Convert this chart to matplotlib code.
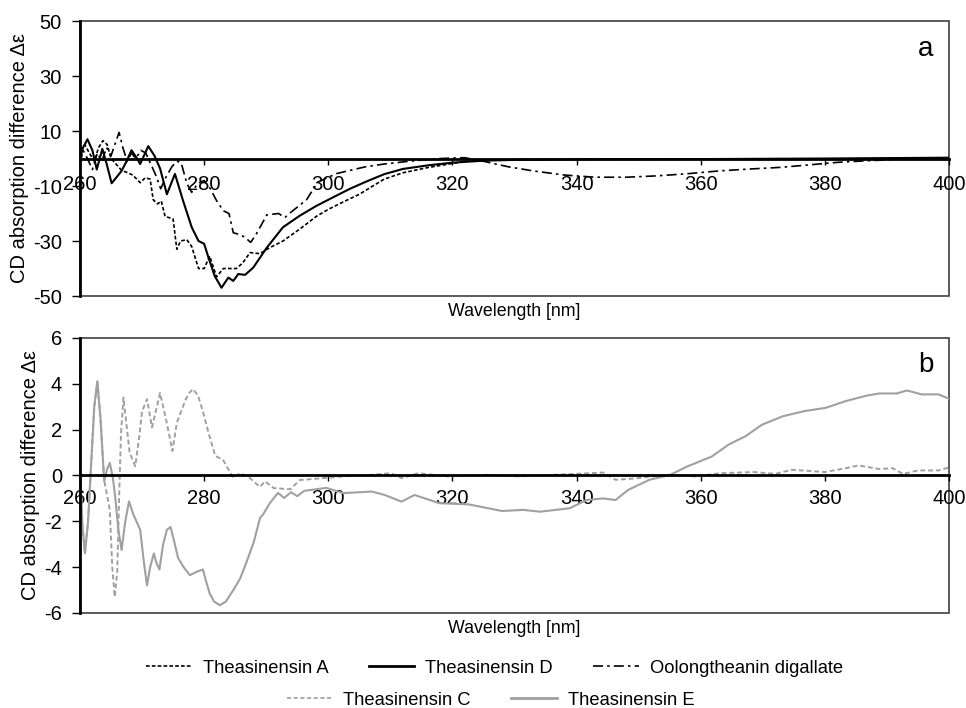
import matplotlib
matplotlib.use("Agg")
import matplotlib.pyplot as plt
from matplotlib.lines import Line2D
from matplotlib.patches import Rectangle

plt.rcParams["font.family"] = ["Liberation Sans", "DejaVu Sans"]
plt.rcParams["axes.unicode_minus"] = False

# ---- panel a: black curves ----
wl_tsa = [260, 260.8, 261.5, 262.3, 263.0, 263.7, 264.4, 265.0, 265.8, 266.7, 267.5, 268.5,
          269.7, 270.5, 271.3, 271.8, 272.5, 273.1, 273.7, 275.0, 275.6, 276.2, 277.2, 278.0,
          279.1, 280.0, 280.9, 282.0, 283.1, 285.2, 286.2, 287.4, 289.0, 290.5, 292.7, 295.5,
          298.1, 300.0, 302.4, 305.0, 309.0, 312.0, 316.0, 320.0, 323.0, 330.0, 350.0, 380.0, 400.0]
cd_tsa = [3, 5, 2, -1, 4, 6.5, 5, 0, -2, -4.3, -5, -6, -8.8, -7, -7.5, -15, -16.5, -15.5, -21,
          -22, -33, -30, -29.5, -32, -40, -40, -35.5, -43, -40, -40, -38, -34.2, -34.6, -32.5,
          -30, -25.5, -21, -18.5, -15.8, -13, -7.5, -5.2, -3.3, -1.8, -0.8, -0.4, -0.2, -0.1, 0]

wl_tsd = [260, 260.5, 261.2, 262.0, 262.7, 263.6, 264.3, 265.1, 266.0, 266.7, 267.5, 268.3,
          269.2, 269.7, 270.5, 271.0, 272.0, 272.9, 274.0, 275.3, 276.6, 278.0, 279.1, 280.0,
          280.7, 281.7, 282.8, 283.9, 284.7, 285.5, 286.6, 287.9, 290.1, 292.7, 295.4, 298.1,
          301.3, 303.5, 306.0, 309.0, 312.0, 316.0, 320.0, 325.0, 330.0, 340.0, 360.0, 380.0, 400.0]
cd_tsd = [0, 4, 7, 3, -4, 3.5, -2, -9, -6.5, -4.5, -1, 3, 0, -2, 2, 4.5, 1, -3.6, -13, -5.6,
          -15.3, -25, -30, -31, -36, -42.7, -47, -43.3, -44.5, -42, -42.3, -39.7, -32.4, -25,
          -20.8, -17.2, -13.5, -11, -8.5, -5.7, -3.8, -2.5, -1.5, -0.8, -0.5, -0.3, -0.2, 0, 0.3]

wl_odg = [260, 260.5, 261.2, 262.0, 262.8, 263.5, 264.3, 265.0, 265.6, 266.3, 266.9, 267.6,
          268.3, 269.0, 269.8, 270.6, 271.4, 272.2, 273.0, 273.8, 274.8, 275.6, 276.3, 277.2,
          278.0, 279.0, 280.0, 281.0, 282.0, 283.1, 284.0, 284.7, 285.5, 286.5, 287.5, 288.4,
          290.1, 292.0, 293.0, 294.0, 296.5, 298.3, 301.3, 303.5, 306.0, 309.0, 313.0, 318.0,
          322.0, 325.0, 329.0, 333.0, 338.0, 343.0, 348.0, 353.0, 358.0, 363.0, 368.0, 373.0,
          378.0, 382.0, 386.0, 390.0, 395.0, 400.0]
cd_odg = [-2, 3, 0, -4, 2, -1, 4, 1, 5, 9.5, 4, -1, 2, 0, 3, 2, -2, -6, -11, -7, -3, -1, -1.5,
          -9, -12.3, -9, -8, -11, -15.3, -19, -20, -27, -27.5, -28.5, -30.5, -27.5, -20.5, -20,
          -21.5, -19.5, -15, -8.6, -5.5, -4.3, -3, -2, -1, 0, 0.3, -1, -3, -4.5, -6, -6.8, -6.8,
          -6.3, -5.5, -4.5, -3.8, -3.2, -2.2, -1.4, -0.9, -0.5, 0, 0.3]

# ---- panel b: gray curves ----
wl_tsc = [260, 260.4, 260.8, 261.3, 261.8, 262.3, 262.8, 263.3, 263.9, 264.8, 265.2, 265.6,
          266.0, 266.3, 266.6, 267.0, 267.5, 268.0, 268.9, 269.5, 270.0, 270.8, 271.6, 272.3,
          272.9, 273.9, 274.9, 275.6, 276.3, 277.0, 277.6, 278.2, 279.0, 279.8, 280.7, 281.8,
          283.0, 284.7, 285.8, 287.1, 289.0, 289.8, 291.2, 293.9, 295.4, 298.5, 302.4, 307.0,
          310.1, 311.8, 314.5, 319.3, 326.0, 330.7, 336.1, 342.2, 344.3, 346.3, 349.7, 354.4,
          359.1, 363.2, 368.6, 372.0, 374.7, 380.0, 383.4, 385.4, 388.8, 390.9, 392.6, 395.0,
          398.3, 400.0]
cd_tsc = [0.3, -2.2, -3.4, -2.0, 0.5, 3.0, 4.1, 2.5, -0.2, -1.5, -4.0, -5.3, -4.2, -1.0, 1.8,
          3.4, 2.2, 1.0, 0.4, 1.6, 2.8, 3.33, 2.1, 2.9, 3.6, 2.4, 1.07, 2.3, 2.8, 3.3, 3.6, 3.77,
          3.5, 2.8, 1.87, 0.85, 0.7, -0.1, 0.1, -0.05, -0.5, -0.25, -0.55, -0.6, -0.2, -0.13,
          -0.04, 0.03, 0.1, -0.12, 0.1, -0.04, 0.03, -0.04, 0.03, 0.1, 0.13, -0.19, -0.12, 0.03,
          -0.04, 0.1, 0.15, 0.07, 0.25, 0.15, 0.32, 0.44, 0.28, 0.32, 0.07, 0.22, 0.22, 0.35]

wl_tse = [260, 260.4, 260.8, 261.3, 261.8, 262.3, 262.8, 263.3, 263.9, 264.4, 264.8, 265.3,
          265.7, 266.2, 266.7, 267.3, 267.9, 268.6, 269.7, 270.3, 270.8, 271.3, 271.9, 272.3,
          272.8, 273.4, 274.0, 274.6, 275.2, 275.8, 276.7, 277.7, 278.8, 279.8, 280.3, 280.9,
          281.6, 282.5, 283.5, 284.7, 285.8, 286.8, 288.0, 289.0, 289.5, 290.6, 291.9, 292.9,
          294.0, 295.0, 296.1, 299.7, 302.4, 307.0, 309.1, 311.8, 313.9, 317.9, 322.6, 328.0,
          331.4, 334.1, 338.9, 341.6, 344.3, 346.3, 348.3, 351.7, 355.1, 357.8, 361.8, 364.5,
          367.2, 369.9, 373.3, 376.7, 380.1, 383.4, 386.8, 388.8, 391.6, 393.2, 395.6, 398.3, 400.0]
cd_tse = [0.3, -2.2, -3.4, -2.0, 0.5, 3.0, 4.1, 2.5, -0.25, 0.3, 0.55, -0.1, -1.0, -2.4,
          -3.25, -2.0, -1.13, -1.7, -2.37, -3.8, -4.8, -4.0, -3.4, -3.8, -4.1, -3.0, -2.37, -2.25,
          -2.9, -3.6, -4.0, -4.35, -4.2, -4.1, -4.6, -5.15, -5.5, -5.66, -5.5, -5.0, -4.5, -3.8,
          -2.9, -1.86, -1.7, -1.2, -0.76, -0.98, -0.73, -0.9, -0.67, -0.54, -0.77, -0.7, -0.85,
          -1.14, -0.85, -1.21, -1.26, -1.55, -1.5, -1.58, -1.43, -1.07, -1.0, -1.07, -0.63,
          -0.19, 0.03, 0.39, 0.83, 1.35, 1.71, 2.22, 2.59, 2.81, 2.95, 3.25, 3.49, 3.58, 3.58,
          3.71, 3.54, 3.54, 3.35]

x_ticks = [260, 280, 300, 320, 340, 360, 380, 400]
ya_ticks = [-50, -30, -10, 10, 30, 50]
yb_ticks = [-6, -4, -2, 0, 2, 4, 6]

GRAY = "#a0a0a0"
STY_A = (0, (2.2, 1.3))
STY_ODG = (0, (6, 2.5, 1.5, 2.5))
STY_C = (0, (2.5, 1.5))

fig = plt.figure(figsize=(9.66, 7.08), dpi=100)
ax_a = fig.add_axes([0.0828, 0.5819, 0.8996, 0.3884])
ax_b = fig.add_axes([0.0828, 0.1342, 0.8996, 0.3884])


def style_axes(ax, yticks, pad):
    ax.set_xlim(260, 400)
    ax.set_ylim(yticks[0], yticks[-1])
    ax.set_xticks(x_ticks)
    ax.set_yticks(yticks)
    for s in ("top", "right"):
        ax.spines[s].set_visible(False)
    ax.spines["bottom"].set_position(("data", 0))
    ax.spines["bottom"].set_linewidth(2)
    ax.spines["left"].set_linewidth(2)
    ax.add_patch(Rectangle((0, 0), 1, 1, transform=ax.transAxes, fill=False,
                           edgecolor="#404040", lw=1.2, zorder=0.5, clip_on=False))
    ax.tick_params(axis="x", direction="out", length=4, width=1, pad=pad, labelsize=14.5)
    ax.tick_params(axis="y", direction="out", length=6, width=1, pad=7, labelsize=14.5)
    ax.set_ylabel("CD absorption difference Δε", fontsize=14.5, labelpad=3)
    ax.text(0.5, -0.055, "Wavelength [nm]", transform=ax.transAxes, ha="center",
            va="center", fontsize=12.8)


ax_a.plot(wl_tsa, cd_tsa, color="black", lw=1.2, ls=STY_A)
ax_a.plot(wl_tsd, cd_tsd, color="black", lw=1.5)
ax_a.plot(wl_odg, cd_odg, color="black", lw=1.2, ls=STY_ODG)
style_axes(ax_a, ya_ticks, 8)
ax_a.text(0.982, 0.9, "a", transform=ax_a.transAxes, ha="right", va="center", fontsize=20)

ax_b.plot(wl_tsc, cd_tsc, color=GRAY, lw=1.4, ls=STY_C)
ax_b.plot(wl_tse, cd_tse, color=GRAY, lw=1.5)
style_axes(ax_b, yb_ticks, 6)
ax_b.text(0.982, 0.9, "b", transform=ax_b.transAxes, ha="right", va="center", fontsize=20)

h1 = [Line2D([], [], color="black", lw=1.2, ls=STY_A),
      Line2D([], [], color="black", lw=2),
      Line2D([], [], color="black", lw=1.2, ls=STY_ODG)]
l1 = ["Theasinensin A", "Theasinensin D", "Oolongtheanin digallate"]
h2 = [Line2D([], [], color=GRAY, lw=1.2, ls=STY_C),
      Line2D([], [], color=GRAY, lw=2)]
l2 = ["Theasinensin C", "Theasinensin E"]
leg_kw = dict(frameon=False, fontsize=13.2, handlelength=2.5, handletextpad=0.6,
              columnspacing=2.2, loc="center")
fig.legend(h1, l1, ncol=3, bbox_to_anchor=(0.512, 0.056), **leg_kw)
fig.legend(h2, l2, ncol=2, bbox_to_anchor=(0.508, 0.011), **leg_kw)

fig.savefig("out.png", dpi=100)
